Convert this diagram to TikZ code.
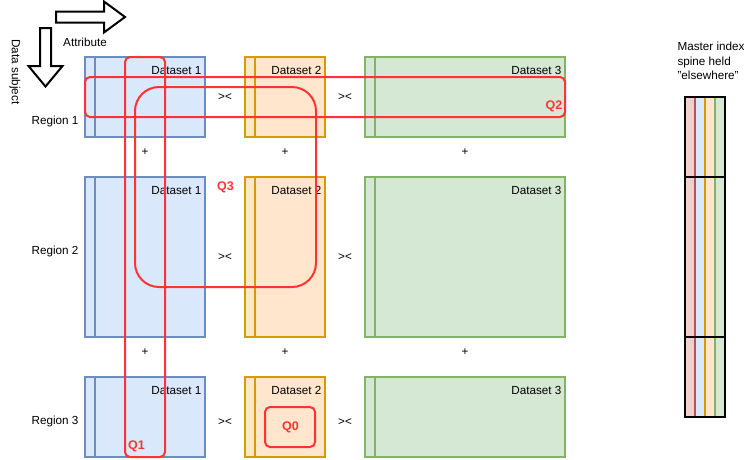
\documentclass[tikz,border=0pt]{standalone}
\usepackage{fontspec}
\setmainfont{Liberation Sans}
\definecolor{bfill}{HTML}{DAE8FC}\definecolor{bline}{HTML}{6C8EBF}
\definecolor{ofill}{HTML}{FFE6CC}\definecolor{oline}{HTML}{D79B00}
\definecolor{gfill}{HTML}{D5E8D4}\definecolor{gline}{HTML}{82B366}
\definecolor{rfill}{HTML}{F8CECC}\definecolor{rline}{HTML}{B85450}
\definecolor{qred}{HTML}{FF3333}
\newcommand\dsetbox[8]{%
  \node[dsbox, fill=#6, draw=#7, minimum width=#4pt, minimum height=#5pt] (#1) at (#2,#3) {};
  \draw[#7, line width=2pt] ([xshift=10pt]#1.north west) -- ([xshift=10pt]#1.south west);
  \node[anchor=east] (#1-lbl) at ([xshift=-3.5pt, yshift=-13.5pt]#1.north east) {#8};}
\begin{document}
\begin{tikzpicture}[x=1pt,y=-1pt,
  every node/.style={font=\fontsize{11.7}{14.5}\selectfont, inner sep=0pt, outer sep=0pt},
  dsbox/.style={rectangle, line width=2pt, anchor=north west},
  qbox/.style={rectangle, draw=qred, line width=2pt, anchor=north west, rounded corners=5pt},
  qlabel/.style={text=qred, font=\fontsize{12.5}{14}\selectfont\bfseries},
  spinebox/.style={rectangle, draw=black, line width=2pt, anchor=north west, minimum width=40pt},
  blockarrow/.style={draw=black, fill=white, line width=2pt, line join=miter}]
\useasboundingbox (0,0) rectangle (755,459);

% block arrows
\draw[blockarrow] (56,11.5) -- (104,11.5) -- (104,1.5) -- (125,17) -- (104,32.5) -- (104,22.5) -- (56,22.5) -- cycle;
\draw[blockarrow] (40,28) -- (51,28) -- (51,66) -- (62.5,66) -- (45.5,86.5) -- (28.5,66) -- (40,66) -- cycle;
\node (attr) at (85,42) {Attribute};
\node[rotate=-90] (subj) at (15,72) {Data subject};

% region labels
\node (reg1) at (55,121) {Region 1};
\node (reg2) at (55,251) {Region 2};
\node (reg3) at (55,421) {Region 3};

% datasets
\dsetbox{a1}{85}{57}{120}{80}{bfill}{bline}{Dataset 1}
\dsetbox{b1}{245}{57}{80}{80}{ofill}{oline}{Dataset 2}
\dsetbox{c1}{365}{57}{200}{80}{gfill}{gline}{Dataset 3}
\dsetbox{a2}{85}{177}{120}{160}{bfill}{bline}{Dataset 1}
\dsetbox{b2}{245}{177}{80}{160}{ofill}{oline}{Dataset 2}
\dsetbox{c2}{365}{177}{200}{160}{gfill}{gline}{Dataset 3}
\dsetbox{a3}{85}{377}{120}{80}{bfill}{bline}{Dataset 1}
\dsetbox{b3}{245}{377}{80}{80}{ofill}{oline}{Dataset 2}
\dsetbox{c3}{365}{377}{200}{80}{gfill}{gline}{Dataset 3}

% operators
\node (j1a) at (225,97.5) {><};
\node (j1b) at (345,97.5) {><};
\node (j2a) at (225,257) {><};
\node (j2b) at (345,257) {><};
\node (j3a) at (225,422.5) {><};
\node (j3b) at (345,422.5) {><};
\node (p1a) at (145,152) {+};
\node (p1b) at (285,152) {+};
\node (p1c) at (465,152) {+};
\node (p2a) at (145,352) {+};
\node (p2b) at (285,352) {+};
\node (p2c) at (465,352) {+};

% query outlines
\node[qbox, minimum width=40pt, minimum height=400pt] (q1) at (125,57) {};
\node[qbox, minimum width=480pt, minimum height=40pt] (q2) at (85,77) {};
\node[qbox, rounded corners=24pt, minimum width=181pt, minimum height=200pt] (q3) at (135,87) {};
\node[qbox, minimum width=50pt, minimum height=40pt] (q0) at (265,407) {};
\node[qlabel] (q1l) at (136.5,446) {Q1};
\node[qlabel] (q2l) at (554,106) {Q2};
\node[qlabel] (q3l) at (225.5,187) {Q3};
\node[qlabel] (q0l) at (290.5,427) {Q0};

% master index spine
\node[anchor=north west, align=left] (spinetxt) at (677.5,42.5) {Master index\\spine held\\"elsewhere"};
\fill[rfill] (685,97) rectangle (695,417);
\fill[bfill] (695,97) rectangle (705,417);
\fill[ofill] (705,97) rectangle (715,417);
\fill[gfill] (715,97) rectangle (725,417);
\draw[rline, line width=2pt] (695,97) -- (695,417);
\draw[oline, line width=2pt] (705,97) -- (705,417);
\draw[gline, line width=2pt] (715,97) -- (715,417);
\node[spinebox, minimum height=80pt] (sp1) at (685,97) {};
\node[spinebox, minimum height=160pt] (sp2) at (685,177) {};
\node[spinebox, minimum height=80pt] (sp3) at (685,337) {};
\end{tikzpicture}
\end{document}
